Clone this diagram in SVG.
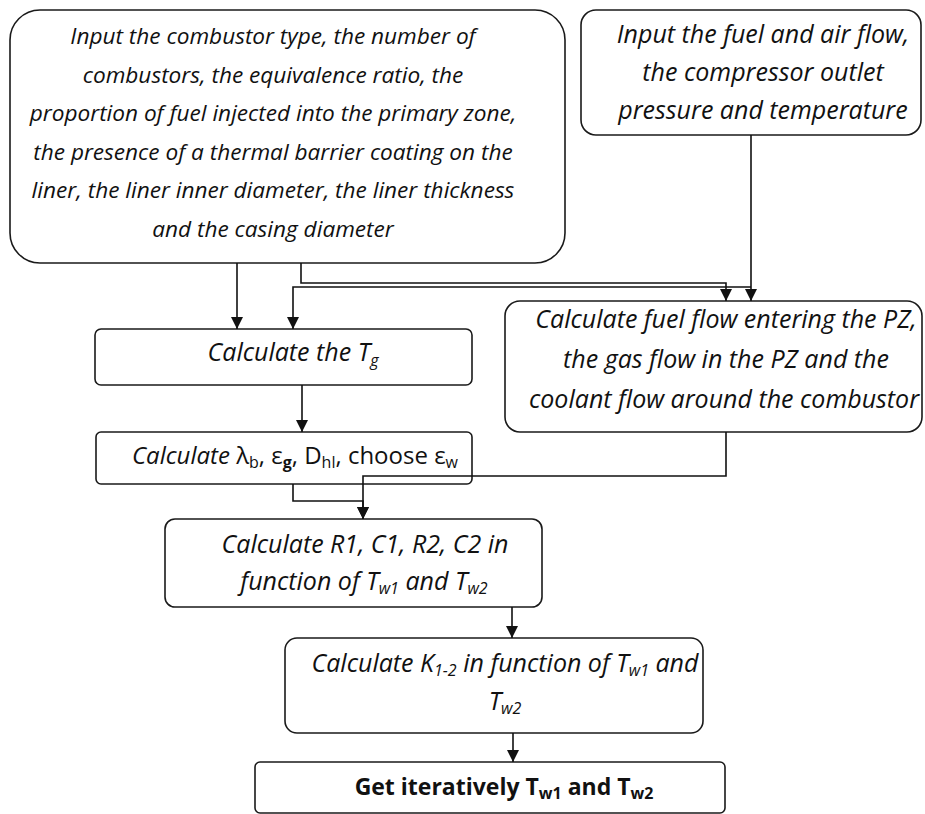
<svg xmlns="http://www.w3.org/2000/svg" width="925" height="814" viewBox="0 0 925 814">
  <style>
    .box { fill: #ffffff; stroke: #1a1a1a; stroke-width: 1.6; }
    .txt { font-family: "Open Sans", "Liberation Sans", sans-serif; font-style: italic; font-size: 25px; fill: #111; text-anchor: middle; }
    .big { font-size: 22.6px; }
    .up { font-style: normal; }
    .bold { font-family: "Open Sans", "Liberation Sans", sans-serif; font-weight: bold; font-size: 23px; fill: #111; text-anchor: middle; }
    .sub { font-size: 16px; }
    .conn { fill: none; stroke: #111; stroke-width: 1.6; }
  </style>
  <defs>
    <marker id="arrowDown" markerUnits="userSpaceOnUse" markerWidth="14" markerHeight="14" viewBox="0 0 14 14" refX="13" refY="7" orient="auto">
      <path d="M1,1 L13,7 L1,13 Z" fill="#111"/>
    </marker>
  </defs>

  <rect width="925" height="814" fill="#ffffff"/>

  <!-- Input: combustor geometry and settings -->
  <g id="input-combustor">
    <rect class="box" x="10" y="10" width="555" height="253" rx="30"/>
    <text class="txt big" x="273" y="44">Input the combustor type, the number of</text>
    <text class="txt big" x="273" y="82.5">combustors, the equivalence ratio, the</text>
    <text class="txt big" x="273" y="121">proportion of fuel injected into the primary zone,</text>
    <text class="txt big" x="273" y="159.5">the presence of a thermal barrier coating on the</text>
    <text class="txt big" x="273" y="198">liner, the liner inner diameter, the liner thickness</text>
    <text class="txt big" x="273" y="236.5">and the casing diameter</text>
  </g>

  <!-- Input: flows and compressor outlet state -->
  <g id="input-flow">
    <rect class="box" x="581" y="10" width="340" height="125" rx="15"/>
    <text class="txt" x="763" y="43">Input the fuel and air flow,</text>
    <text class="txt" x="763" y="81">the compressor outlet</text>
    <text class="txt" x="763" y="119">pressure and temperature</text>
  </g>

  <!-- Gas temperature -->
  <g id="calc-tg">
    <rect class="box" x="95" y="329" width="377" height="56" rx="6"/>
    <text class="txt" x="293" y="361">Calculate the T<tspan class="sub" dy="5">g</tspan></text>
  </g>

  <!-- Primary zone flows -->
  <g id="calc-pz">
    <rect class="box" x="505" y="301" width="417" height="131" rx="15"/>
    <text class="txt" x="726" y="328">Calculate fuel flow entering the PZ,</text>
    <text class="txt" x="726" y="368">the gas flow in the PZ and the</text>
    <text class="txt" x="724" y="408">coolant flow around the combustor</text>
  </g>

  <!-- Radiation / property parameters -->
  <g id="calc-lambda">
    <rect class="box" x="96" y="432" width="376" height="52" rx="5"/>
    <text class="txt" x="295" y="464" style="font-size:24px">Calculate <tspan class="up">λ<tspan class="sub" dy="4">b</tspan><tspan dy="-4">, ε</tspan><tspan class="sub" dy="4" font-weight="bold">g</tspan><tspan dy="-4">, D</tspan><tspan class="sub" dy="4">hl</tspan><tspan dy="-4">, choose ε</tspan><tspan class="sub" dy="4">w</tspan></tspan></text>
  </g>

  <!-- Thermal resistances and capacities -->
  <g id="calc-rc">
    <rect class="box" x="165" y="519" width="377" height="88" rx="10"/>
    <text class="txt" x="365" y="553">Calculate R1, C1, R2, C2 in</text>
    <text class="txt" x="364" y="590">function of T<tspan class="sub" dy="4">w1</tspan><tspan dy="-4"> and T</tspan><tspan class="sub" dy="4">w2</tspan></text>
  </g>

  <!-- Conduction term -->
  <g id="calc-k">
    <rect class="box" x="285" y="638" width="418" height="95" rx="12"/>
    <text class="txt" x="505" y="672">Calculate K<tspan class="sub" dy="4">1-2</tspan><tspan dy="-4"> in function of T</tspan><tspan class="sub" dy="4">w1</tspan><tspan dy="-4"> and</tspan></text>
    <text class="txt" x="505" y="710">T<tspan class="sub" dy="4">w2</tspan></text>
  </g>

  <!-- Result -->
  <g id="result">
    <rect class="box" x="255" y="762" width="470" height="51" rx="5"/>
    <text class="bold" x="504" y="795">Get iteratively T<tspan class="sub" dy="4">w1</tspan><tspan dy="-4"> and T</tspan><tspan class="sub" dy="4">w2</tspan></text>
  </g>

  <!-- Connectors -->
  <g id="connectors">
    <path class="conn" d="M237,263 V329" marker-end="url(#arrowDown)"/>
    <path class="conn" d="M301,263 V283 H726 V301" marker-end="url(#arrowDown)"/>
    <path class="conn" d="M751,135 V301" marker-end="url(#arrowDown)"/>
    <path class="conn" d="M751,287 H293 V329" marker-end="url(#arrowDown)"/>
    <path class="conn" d="M302,385 V432" marker-end="url(#arrowDown)"/>
    <path class="conn" d="M293,484 V501 H363 V519" marker-end="url(#arrowDown)"/>
    <path class="conn" d="M726,432 V476 H363 V519" marker-end="url(#arrowDown)"/>
    <path class="conn" d="M512,607 V638" marker-end="url(#arrowDown)"/>
    <path class="conn" d="M513,733 V762" marker-end="url(#arrowDown)"/>
  </g>
</svg>
